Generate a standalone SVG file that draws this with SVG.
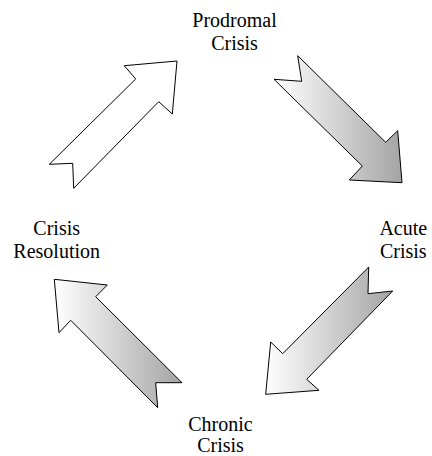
<svg xmlns="http://www.w3.org/2000/svg" width="432" height="456" viewBox="0 0 432 456">
  <style>
    .lbl { font-family: "Liberation Serif", "Times New Roman", serif; font-size: 20px; fill: #000; text-anchor: middle; }
    .arrow { stroke: #000; stroke-width: 1; stroke-linejoin: miter; }
    .plain { fill: #ffffff; }
    .grad { fill: url(#g); }
  </style>
  <defs>
    <linearGradient id="g" x1="0" y1="0" x2="1" y2="0">
      <stop offset="0" stop-color="#ffffff"/>
      <stop offset="1" stop-color="#a4a4a4"/>
    </linearGradient>
  </defs>
  <rect width="432" height="456" fill="#ffffff"/>
  <g id="connectors">
    <polygon id="arrow-resolution-prodromal" class="arrow plain" points="177,61 172.3,114 158.7,101.7 73.7,188.3 72.7,163.3 49.3,164.3 135.7,79 124.3,65.7"/>
    <polygon id="arrow-prodromal-acute" class="arrow grad" points="297.7,55.7 301.7,81.3 274,79.3 362.3,166 349.3,180 402,182.7 397.7,130.7 385.7,142.3"/>
    <polygon id="arrow-acute-chronic" class="arrow grad" points="368.7,267 368,293.7 392.7,291 306.7,379.3 319,390.3 265.7,394.3 270.7,342 282.7,353.7"/>
    <polygon id="arrow-chronic-resolution" class="arrow grad" points="157.7,407.7 155.7,382.7 182,382.7 95.7,296.7 107.3,285 54.3,279.3 59,332.7 70.7,320.3"/>
  </g>
  <g id="node-prodromal">
    <text class="lbl" x="234.5" y="27">Prodromal</text>
    <text class="lbl" x="234.5" y="50">Crisis</text>
  </g>
  <g id="node-acute">
    <text class="lbl" x="403.3" y="235">Acute</text>
    <text class="lbl" x="403.3" y="258">Crisis</text>
  </g>
  <g id="node-chronic">
    <text class="lbl" x="220.5" y="431">Chronic</text>
    <text class="lbl" x="220.5" y="452">Crisis</text>
  </g>
  <g id="node-resolution">
    <text class="lbl" x="56.7" y="235">Crisis</text>
    <text class="lbl" x="56.7" y="258">Resolution</text>
  </g>
</svg>
